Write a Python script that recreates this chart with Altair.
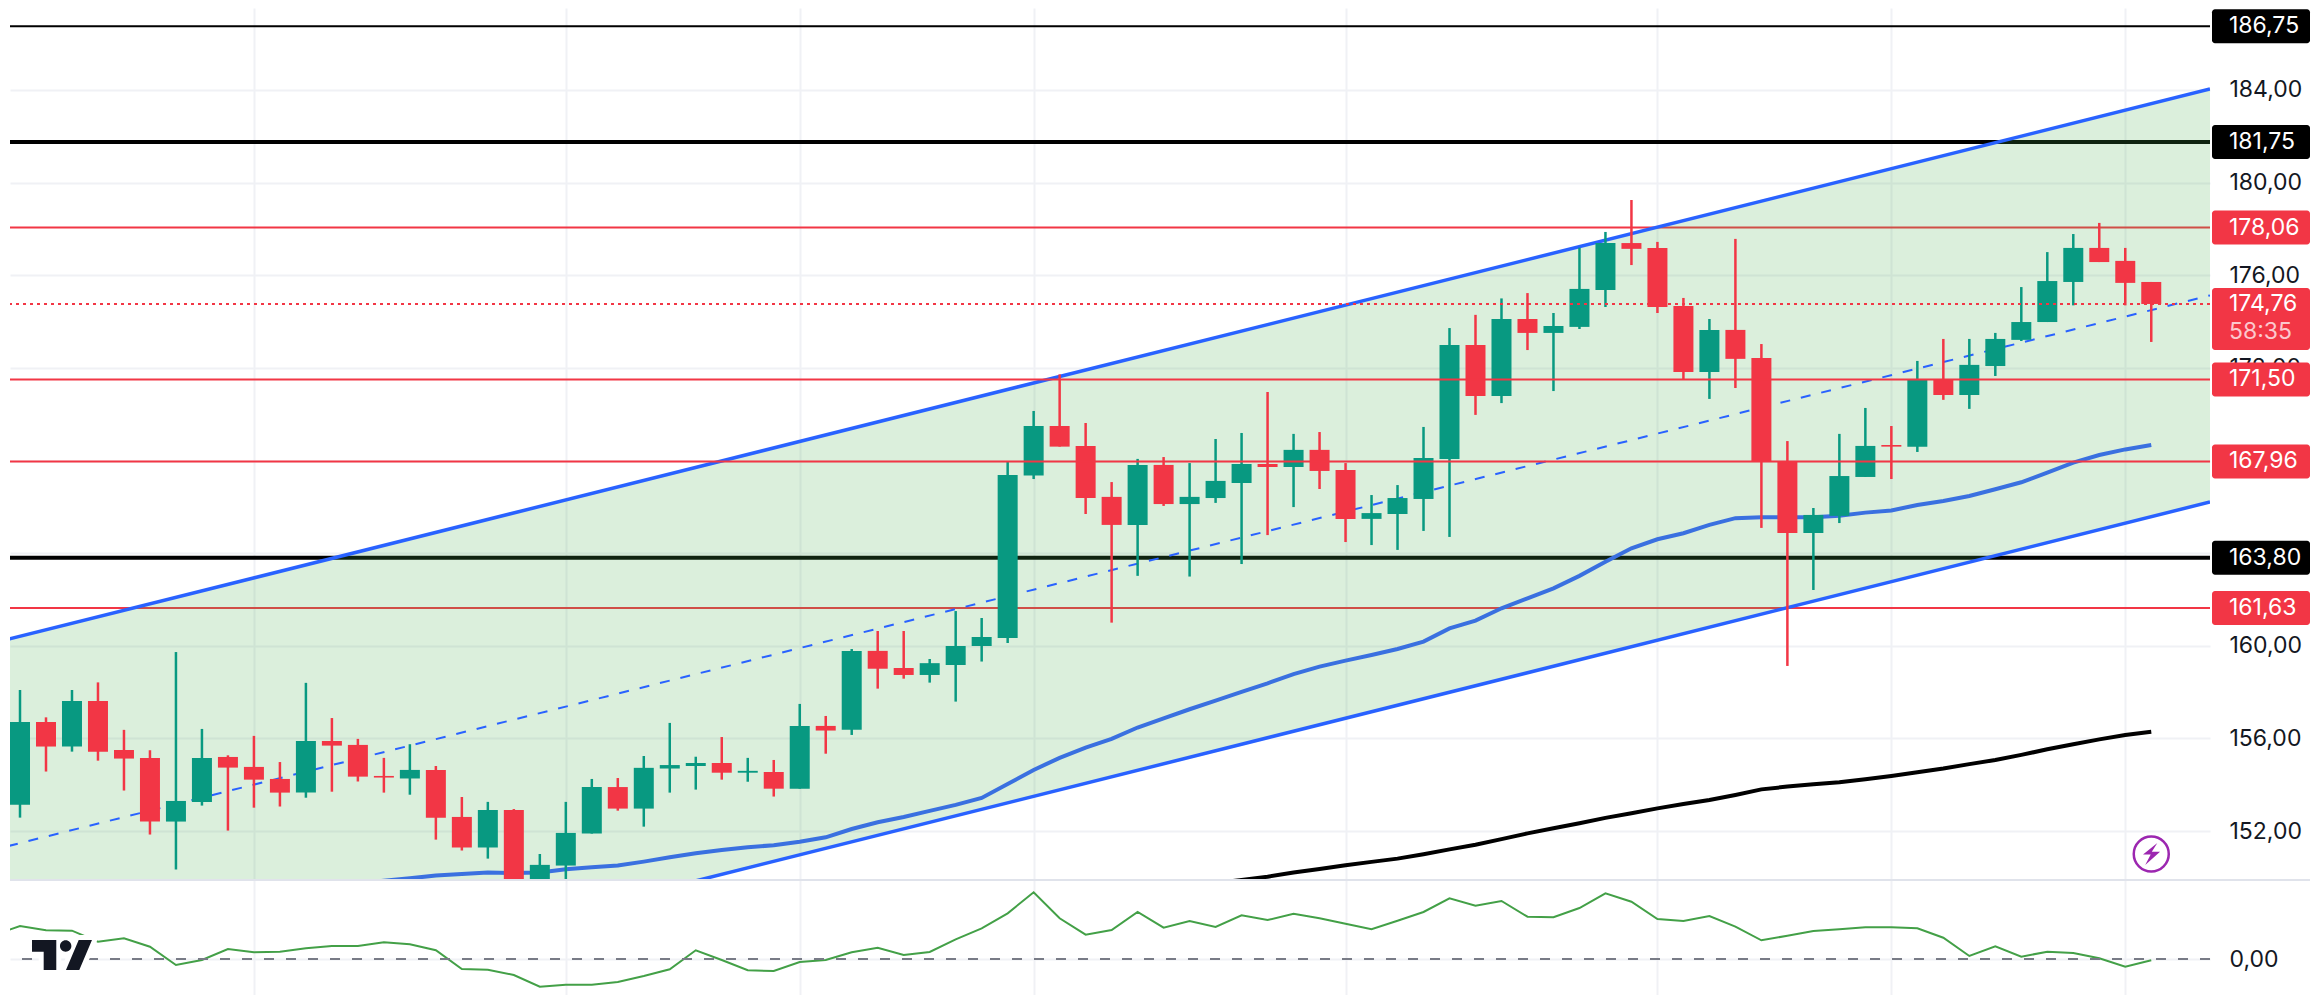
import altair as alt
import pandas as pd

OPEN = [153.14,156.71,155.65,157.62,155.50,155.16,152.41,153.26,155.20,154.77,154.25,153.66,155.89,155.72,154.38,154.27,154.64,152.61,151.29,152.91,149.40,150.51,151.89,153.90,152.97,154.70,154.81,154.94,154.52,154.55,153.83,156.54,156.38,159.78,159.04,158.74,159.17,159.99,160.34,167.35,169.49,168.63,166.43,165.22,167.81,166.12,166.38,167.03,167.85,167.72,168.46,167.59,165.48,165.69,166.34,168.07,172.99,170.79,174.11,173.51,173.77,175.36,177.39,177.18,174.67,171.82,173.64,172.43,167.94,164.87,165.61,167.29,168.67,168.59,171.48,170.83,172.08,173.21,173.98,175.71,177.18,176.62,175.71]
HIGH = [158.09,156.91,158.09,158.42,156.37,155.49,159.73,156.41,155.27,156.11,154.98,158.40,156.88,155.98,155.16,155.75,154.81,153.47,153.26,152.95,151.01,153.26,154.25,154.29,155.24,156.67,155.21,156.06,155.16,155.07,157.49,156.97,159.86,160.64,160.64,159.43,161.50,161.20,167.95,170.14,171.72,169.62,167.07,168.07,168.15,167.89,168.93,169.19,170.96,169.15,169.23,167.89,166.51,166.94,169.45,173.72,174.29,175.00,175.23,174.37,177.19,177.87,179.25,177.44,175.02,174.11,177.57,173.03,168.84,165.95,169.15,170.27,169.49,172.30,173.25,173.25,173.51,175.49,177.00,177.78,178.26,177.18,175.71]
LOW = [152.58,154.57,155.43,155.04,153.75,151.85,150.34,153.10,152.02,153.01,153.06,153.44,153.70,154.14,153.66,153.57,151.63,151.16,150.81,149.30,149.20,149.70,151.89,152.88,152.19,153.66,153.79,154.22,154.13,153.49,153.83,155.34,156.15,158.15,158.58,158.41,157.59,159.32,160.12,167.20,168.60,165.69,161.00,163.02,166.04,162.99,166.17,163.53,164.78,165.99,166.77,164.48,164.35,164.14,164.96,164.70,169.97,170.48,172.77,171.00,173.68,174.63,176.44,174.37,171.48,170.66,171.13,165.09,159.13,162.41,165.30,167.29,167.20,168.37,170.62,170.23,171.65,173.16,173.98,174.70,176.57,174.70,173.12]
CLOSE = [156.71,155.65,157.62,155.43,155.13,152.41,153.30,155.16,154.74,154.22,153.66,155.89,155.69,154.35,154.31,154.64,152.58,151.29,152.91,149.40,150.54,151.92,153.90,152.97,154.73,154.85,154.94,154.52,154.60,153.83,156.54,156.34,159.78,159.01,158.74,159.25,159.99,160.38,167.38,169.49,168.60,166.38,165.22,167.81,166.12,166.43,167.12,167.85,167.72,168.46,167.55,165.48,165.73,166.38,168.11,172.99,170.79,174.11,173.51,173.81,175.41,177.39,177.14,174.63,171.82,173.64,172.39,167.94,164.87,165.65,167.33,168.63,168.60,171.52,170.83,172.13,173.25,173.98,175.75,177.18,176.57,175.67,174.76]

MA_BLUE_X = list(range(13, 83))
MA_BLUE = [149.70,149.86,149.96,150.08,150.15,150.21,150.19,150.21,150.35,150.44,150.51,150.68,150.87,151.04,151.18,151.30,151.39,151.54,151.73,152.09,152.38,152.61,152.87,153.13,153.43,154.03,154.64,155.16,155.60,155.98,156.47,156.87,157.26,157.63,158.01,158.38,158.78,159.10,159.36,159.60,159.86,160.18,160.75,161.09,161.62,162.05,162.48,163.02,163.63,164.21,164.60,164.86,165.22,165.51,165.55,165.55,165.55,165.62,165.75,165.84,166.08,166.25,166.47,166.76,167.06,167.48,167.91,168.24,168.48,168.67]
MA_BLACK_X = list(range(46, 83))
MA_BLACK = [149.75,149.89,150.03,150.21,150.36,150.52,150.67,150.81,151.00,151.21,151.41,151.65,151.90,152.12,152.34,152.57,152.77,152.98,153.17,153.34,153.56,153.80,153.92,154.02,154.11,154.24,154.38,154.54,154.70,154.89,155.07,155.29,155.53,155.75,155.96,156.15,156.29]

MOM_X = list(range(-1, 83))
MOM = [2.40,3.30,2.87,2.83,1.73,2.07,1.23,-0.60,-0.10,1.00,0.67,0.73,1.07,1.30,1.30,1.67,1.47,0.87,-1.00,-1.07,-1.60,-2.77,-2.57,-2.57,-2.30,-1.70,-1.03,0.87,-0.10,-1.13,-1.20,-0.30,-0.10,0.67,1.13,0.40,0.70,1.97,3.07,4.57,6.67,4.07,2.43,2.90,4.70,3.13,3.80,3.20,4.37,3.90,4.53,4.07,3.53,2.97,3.83,4.70,6.07,5.33,5.80,4.23,4.17,5.10,6.57,5.73,4.00,3.80,4.30,3.23,1.87,2.33,2.80,2.97,3.17,3.17,3.07,2.13,0.30,1.27,0.23,0.73,0.60,0.07,-0.77,-0.13]

CH_X = [-0.46, 84.26]
CH_TOP = [160.28, 184.04]
CH_MID = [151.35, 175.13]
CH_BOT = [142.42, 166.21]

LEVELS_UNDER = [186.75, 181.75, 178.06, 163.80, 161.63]
LEVELS_UNDER_W = [2, 4, 2, 4, 2]
LEVELS_UNDER_C = ["#000000", "#000000", "#f23645", "#000000", "#f23645"]
LEVELS_OVER = [171.50, 167.96]
LAST_PRICE = 174.76

TAG_PRICE = [186.75, 181.75, 178.06, 171.50, 167.96, 163.80, 161.63]
TAG_COLOR = ["#000000", "#000000", "#f23645", "#f23645", "#f23645", "#000000", "#f23645"]
COUNTDOWN = "58:35"

Y_TICKS = [152, 156, 160, 164, 168, 172, 176, 180, 184]
X_TICKS = [9, 21, 30, 39, 51, 63, 72, 81]

FONT = "Inter"
FS = 23
PX = 23.16
GRID = "#f0f1f5"
BORDER = "#e0e3eb"
GREEN = "#089981"
RED = "#f23645"
BLUE = "#2962ff"

W = 2200
H_TOP = 871
H_LOW = 116

LABEL = "replace(format(datum.value,'.2f'),'.',',')"
xscale = alt.Scale(domain=[-0.385, 84.26], nice=False, zero=False, padding=0)
yscale = alt.Scale(domain=[149.93, 187.54], nice=False, zero=False, padding=0)
lscale = alt.Scale(domain=[-3.6, 8.0], nice=False, zero=False, padding=0)

xaxis = alt.Axis(values=X_TICKS, grid=True, gridColor=GRID, gridWidth=2, labels=False,
                 ticks=False, domain=False, title=None)
yaxis = alt.Axis(values=Y_TICKS, orient="right", grid=True, gridColor=GRID, gridWidth=2,
                 ticks=False, domain=False, title=None, labelExpr=LABEL, labelFont=FONT,
                 labelFontSize=FS, labelColor="#131722", labelPadding=19, labelAlign="left",
                 labelOverlap=False, labelBound=False, labelFlush=False)
laxis = alt.Axis(values=[0], orient="right", grid=True, gridColor=GRID, gridWidth=2,
                 ticks=False, domain=False, title=None, labelExpr=LABEL, labelFont=FONT,
                 labelFontSize=FS, labelColor="#131722", labelPadding=19, labelAlign="left")


def X(f="x"):
    return alt.X(f"{f}:Q", scale=xscale, axis=xaxis, title=None)


def Y(f="y"):
    return alt.Y(f"{f}:Q", scale=yscale, axis=yaxis, title=None)


def L(f="y"):
    return alt.Y(f"{f}:Q", scale=lscale, axis=laxis, title=None)


candles = pd.DataFrame({"x": list(range(len(OPEN))), "o": OPEN, "h": HIGH, "l": LOW, "c": CLOSE})
candles["dir"] = ["up" if c >= o else "down" for o, c in zip(OPEN, CLOSE)]
channel = pd.DataFrame({"x": CH_X, "top": CH_TOP, "mid": CH_MID, "bot": CH_BOT})
under = pd.DataFrame({"y": LEVELS_UNDER, "w": LEVELS_UNDER_W, "col": LEVELS_UNDER_C})
over = pd.DataFrame({"y": LEVELS_OVER})
last = pd.DataFrame({"y": [LAST_PRICE]})
blue = pd.DataFrame({"x": MA_BLUE_X, "y": MA_BLUE})
black = pd.DataFrame({"x": MA_BLACK_X, "y": MA_BLACK})

tags = pd.DataFrame({"y": TAG_PRICE, "col": TAG_COLOR})
tags["hi"] = tags["y"] + 17 / PX
tags["lo"] = tags["y"] - 17 / PX
tags["txt"] = [f"{p:.2f}".replace(".", ",") for p in TAG_PRICE]
lasttag = pd.DataFrame({"y": [LAST_PRICE], "hi": [LAST_PRICE + 16 / PX], "lo": [LAST_PRICE - 46 / PX],
                        "txt": [f"{LAST_PRICE:.2f}".replace(".", ",")], "cd": [COUNTDOWN]})

color_id = alt.Color("col:N", scale=None, legend=None)

grid_base = alt.Chart(channel).mark_line(opacity=0, clip=True).encode(x=X(), y=Y("mid"))
under_rules = alt.Chart(under).mark_rule().encode(y=Y(), color=color_id,
                                                  strokeWidth=alt.StrokeWidth("w:Q", scale=None, legend=None))
fill = alt.Chart(channel).mark_area(color="#4caf50", opacity=0.2, clip=True).encode(
    x=X(), y=Y("top"), y2=alt.Y2("bot:Q"))
ch_top = alt.Chart(channel).mark_line(color=BLUE, strokeWidth=3.5, clip=True).encode(x=X(), y=Y("top"))
ch_bot = alt.Chart(channel).mark_line(color=BLUE, strokeWidth=3.5, clip=True).encode(x=X(), y=Y("bot"))
ch_mid = alt.Chart(channel).mark_line(color=BLUE, strokeWidth=2, strokeDash=[10, 11], clip=True).encode(
    x=X(), y=Y("mid"))
ma_blue = alt.Chart(blue).mark_line(color="#3a70e0", strokeWidth=4, clip=True).encode(x=X(), y=Y())
ma_black = alt.Chart(black).mark_line(color="#000000", strokeWidth=4, clip=True).encode(x=X(), y=Y())

dir_color = alt.Color("dir:N", scale=alt.Scale(domain=["up", "down"], range=[GREEN, RED]), legend=None)
wicks = alt.Chart(candles).mark_rule(strokeWidth=2.5, clip=True).encode(
    x=X(), y=Y("l"), y2=alt.Y2("h:Q"), color=dir_color)
bodies = alt.Chart(candles).mark_bar(size=20, clip=True, orient="vertical").encode(
    x=X(), y=Y("o"), y2=alt.Y2("c:Q"), color=dir_color)

over_rules = alt.Chart(over).mark_rule(color=RED, strokeWidth=2).encode(y=Y())
last_rule = alt.Chart(last).mark_rule(color=RED, strokeWidth=2, strokeDash=[3, 4]).encode(y=Y())

# bolt badge
badge_df = pd.DataFrame({"x": [82], "y": [151.01]})
badge = alt.Chart(badge_df).mark_point(shape="circle", filled=False, color="#9c27b0", size=1225,
                                       strokeWidth=2.5, opacity=1).encode(x=X(), y=Y())
bolt = alt.Chart(badge_df).mark_point(
    shape="M0.55,-1 L-0.75,0.05 L-0.05,0.05 L-0.55,1 L0.8,-0.2 L0.05,-0.2 Z",
    filled=True, color="#9c27b0", size=484, opacity=1, strokeWidth=0).encode(x=X(), y=Y())

tag_rect = alt.Chart(tags).mark_rect(cornerRadius=3).encode(
    x=alt.value(2202), x2=alt.value(2300), y=Y("lo"), y2=alt.Y2("hi:Q"), color=color_id)
tag_text = alt.Chart(tags).mark_text(align="left", baseline="middle", font=FONT, fontSize=FS, color="#ffffff").encode(
    x=alt.value(2219), y=Y(), text="txt:N")
last_rect = alt.Chart(lasttag).mark_rect(cornerRadius=3, color=RED).encode(
    x=alt.value(2202), x2=alt.value(2300), y=Y("lo"), y2=alt.Y2("hi:Q"))
last_text = alt.Chart(lasttag).mark_text(align="left", baseline="middle", font=FONT, fontSize=FS, color="#ffffff").encode(
    x=alt.value(2219), y=Y(), text="txt:N")
cd_text = alt.Chart(lasttag).mark_text(align="left", baseline="middle", font=FONT, fontSize=FS, color="#fcc8cd", dy=28).encode(
    x=alt.value(2219), y=Y(), text="cd:N")

top = alt.layer(
    grid_base, under_rules, fill, ch_mid, ch_top, ch_bot, ma_black, ma_blue, wicks, bodies,
    over_rules, last_rule, badge, bolt,
    tag_rect, last_rect, tag_text, last_text, cd_text,
).properties(width=W, height=H_TOP)

# lower pane
mom = pd.DataFrame({"x": MOM_X, "y": MOM})
zero = pd.DataFrame({"y": [0.0]})
logo_df = pd.DataFrame({"x": [1.615], "y": [0.4]})
LOGO_PATH = ("M-1,-0.5 H-0.19 V0.5 H-0.61 V-0.11 H-1 Z "
             "M-0.067,-0.3 a0.19,0.19 0 1,0 0.38,0 a0.19,0.19 0 1,0 -0.38,0 Z "
             "M0.557,-0.5 L1,-0.5 L0.577,0.5 L0.133,0.5 Z")

mom_line = alt.Chart(mom).mark_line(color="#43a047", strokeWidth=2, clip=True).encode(x=X(), y=L())
zero_rule = alt.Chart(zero).mark_rule(color="#787b86", strokeWidth=2, strokeDash=[10, 12]).encode(y=L())
logo_halo = alt.Chart(logo_df).mark_point(shape=LOGO_PATH, filled=False, color="#ffffff", size=3600,
                                          strokeWidth=10, opacity=1).encode(x=X(), y=L())
logo = alt.Chart(logo_df).mark_point(shape=LOGO_PATH, filled=True, color="#131722", size=3600,
                                     strokeWidth=0, opacity=1).encode(x=X(), y=L())
separator = alt.Chart(zero).mark_rule(color=BORDER, strokeWidth=2).encode(
    x=alt.value(0), x2=alt.value(2300), y=alt.value(1))

low = alt.layer(mom_line, zero_rule, logo_halo, logo, separator).properties(width=W, height=H_LOW)

chart = alt.vconcat(top, low, spacing=0, bounds="flush").properties(
    padding=0, background="#ffffff"
).configure_view(stroke=None)

chart.save("out.html", embed_options={"renderer": "svg", "actions": False})
